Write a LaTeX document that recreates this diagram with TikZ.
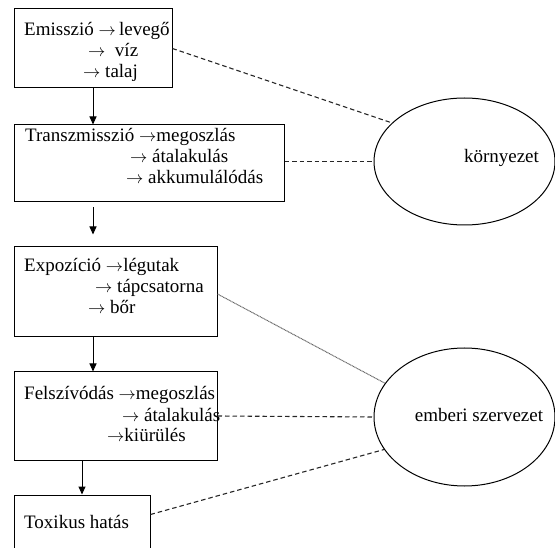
\documentclass[tikz,border=0pt]{standalone}
\usepackage{fontspec}
\setmainfont{Liberation Serif}
\usetikzlibrary{arrows.meta,shapes.geometric,calc}
\newcommand{\ra}{$\rightarrow$}
\begin{document}
\begin{tikzpicture}[x=1pt,y=-1pt,
  box/.style={draw=black, line width=1pt, rectangle, inner sep=0pt},
  ell/.style={draw=black, line width=1pt, ellipse, inner sep=0pt},
  txt/.style={anchor=base west, inner sep=0pt, font=\fontsize{19}{21}\selectfont},
  etxt/.style={anchor=base, inner sep=0pt, font=\fontsize{19}{21}\selectfont},
  arr/.style={draw=black, line width=1pt, -{Triangle[length=8pt,width=7pt]}},
  dashline/.style={draw=black!85, line width=1.1pt, dash pattern=on 4.5pt off 3pt},
  dotline/.style={draw=black!60, line width=1pt, dash pattern=on 1pt off 0.6pt}]
\useasboundingbox (0,0) rectangle (555,548);
\clip (0,0) rectangle (555,548);
% boxes
\node[box, minimum width=158pt, minimum height=79pt] (b1) at (93,48.5) {};
\node[box, minimum width=270pt, minimum height=77pt] (b2) at (149,163.5) {};
\node[box, minimum width=203pt, minimum height=90pt] (b3) at (115.5,292) {};
\node[box, minimum width=203pt, minimum height=88pt] (b4) at (115.5,416) {};
\node[box, minimum width=136pt, minimum height=80pt] (b5) at (82,535) {};
% ellipses
\node[ell, minimum width=181pt, minimum height=127pt] (env) at (464.5,161.5) {};
\node[ell, minimum width=181pt, minimum height=138pt] (emb) at (464.5,417) {};
% texts
\node[txt] (t1a) at (24,36) {Emisszió \ra\,levegő};
\node[txt] (t1b) at (88,57) {\ra\ \ víz};
\node[txt] (t1c) at (83,78) {\ra\ talaj};
\node[txt] (t2a) at (25,142) {Transzmisszió \ra megoszlás};
\node[txt] (t2b) at (130,163) {\ra\ átalakulás};
\node[txt] (t2c) at (126,184) {\ra\ akkumulálódás};
\node[txt] (t3a) at (24,272) {Expozíció \ra légutak};
\node[txt] (t3b) at (95,293) {\ra\ tápcsatorna};
\node[txt] (t3c) at (88,314) {\ra\ bőr};
\node[txt] (t4a) at (24,400) {Felszívódás \ra megoszlás};
\node[txt] (t4b) at (122,421) {\ra\ átalakulás};
\node[txt] (t4c) at (107,442) {\ra kiürülés};
\node[txt] (t5a) at (24,528) {Toxikus hatás};
\node[etxt] (envt) at (501.5,163) {környezet};
\node[etxt] (embt) at (479,421) {emberi szervezet};
% arrows
\draw[arr] (b1.south) -- (b2.north -| b1.south);
\draw[arr] ([yshift=-5pt]b2.south -| b1.south) -- ([yshift=12pt]b3.north -| b1.south);
\draw[arr] (b3.south -| b1.south) -- (b4.north -| b1.south);
\draw[arr] (b4.south -| b5.north) -- (b5.north);
% dashed connectors
\draw[dashline] (b1.east) -- (env.152);
\draw[dashline] (b2.east |- env.west) -- (env.west);
\draw[dotline] ([yshift=-2pt]b3.east) -- (emb.157);
\draw[dashline] (b4.east) -- (emb.west);
\draw[dashline] ([yshift=-20pt]b5.north east) -- (emb.202);
\end{tikzpicture}
\end{document}
